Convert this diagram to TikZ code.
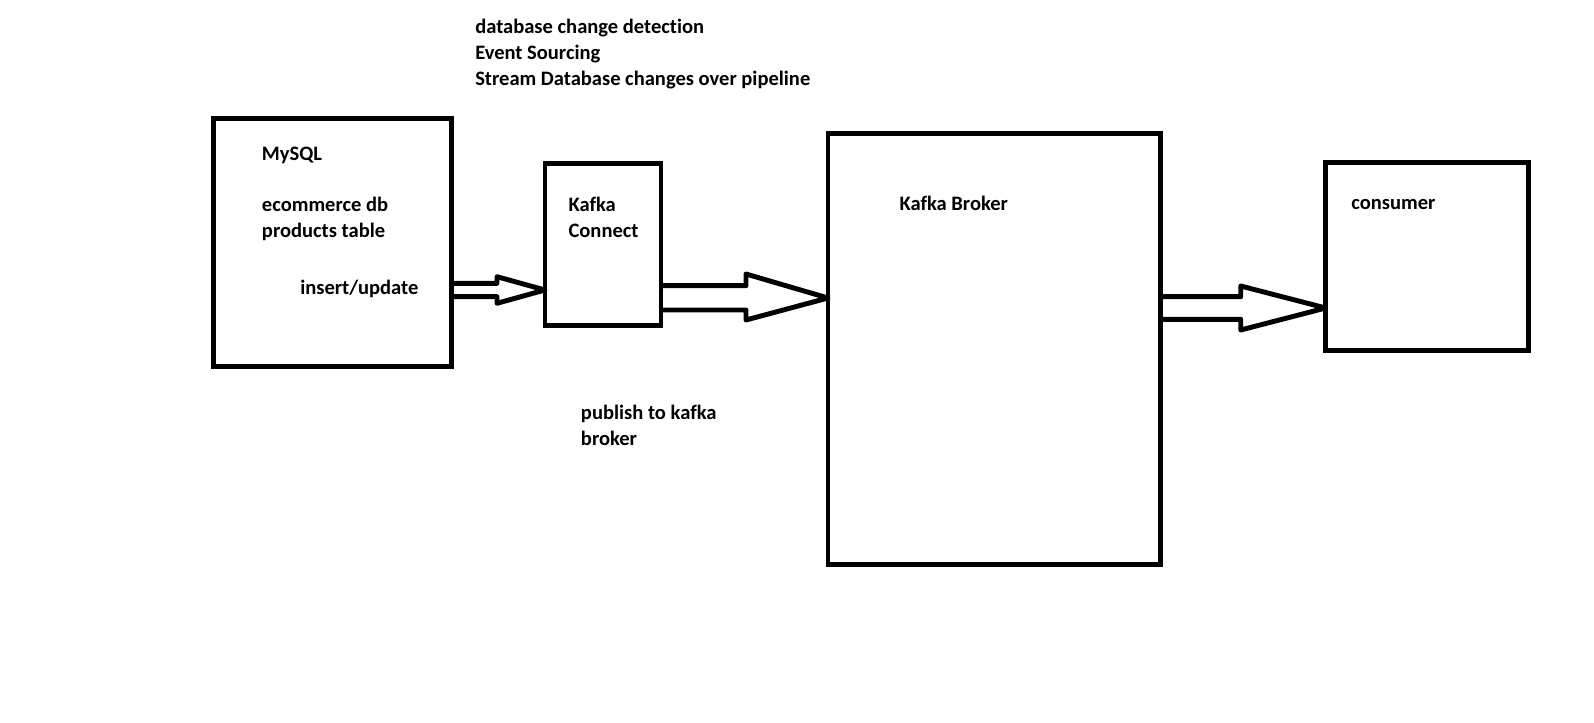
\documentclass[tikz,border=0pt]{standalone}
\usepackage{fontspec}
\setmainfont[Ligatures=NoCommon]{Carlito}
\usetikzlibrary{positioning}
\begin{document}
\begin{tikzpicture}[x=0.025cm, y=-0.025cm,
  box/.style={draw, line width=3.5pt, outer sep=0pt, inner sep=0pt},
  lbl/.style={inner sep=0pt, anchor=base west, align=left, font=\fontsize{14.6}{18.3}\selectfont\bfseries},
  fatarrow/.style={draw, line width=3.5pt, line join=round}]
\useasboundingbox (0,0) rectangle (1594,723);
\node[box, minimum width=5.94cm, minimum height=6.2cm] (mysql) at (332.5,242.7) {};
\node[box, minimum width=2.9cm, minimum height=4.05cm] (connect) at (603,244.3) {};
\node[box, minimum width=8.3cm, minimum height=10.75cm] (broker) at (994,349) {};
\node[box, minimum width=5.075cm, minimum height=4.7cm] (consumer) at (1427.2,256.7) {};

\node[lbl] (notes) at (475,85) {database change detection\\Event Sourcing\\Stream Database changes over pipeline};
\node[lbl] (mysqlname) at (261.7,160.7) {MySQL};
\node[lbl] (mysqltable) at (261.7,237.3) {ecommerce db\\products table};
\node[lbl] (insert) at (300,294.3) {insert/update};
\node[lbl] (connectname) at (568.3,237.3) {Kafka\\Connect};
\node[lbl] (brokername) at (899.3,210) {Kafka Broker};
\node[lbl] (consumername) at (1351,209.3) {consumer};
\node[lbl] (publish) at (580.7,445) {publish to kafka\\broker};

\draw[fatarrow] (mysql.east |- 0,283.3) -- (497,283.3) -- (497,276.7) -- (connect.west |- 0,290)
  -- (497,303.3) -- (497,296.7) -- (mysql.east |- 0,296.7);
\draw[fatarrow] (connect.east |- 0,285.7) -- (746,285.7) -- (746,274) -- (broker.west |- 0,298)
  -- (746,320) -- (746,310) -- (connect.east |- 0,310);
\draw[fatarrow] (broker.east |- 0,296.7) -- (1240.7,296.7) -- (1240.7,286) -- (consumer.west |- 0,308)
  -- (1240.7,330) -- (1240.7,319.3) -- (broker.east |- 0,319.3);
\end{tikzpicture}
\end{document}
